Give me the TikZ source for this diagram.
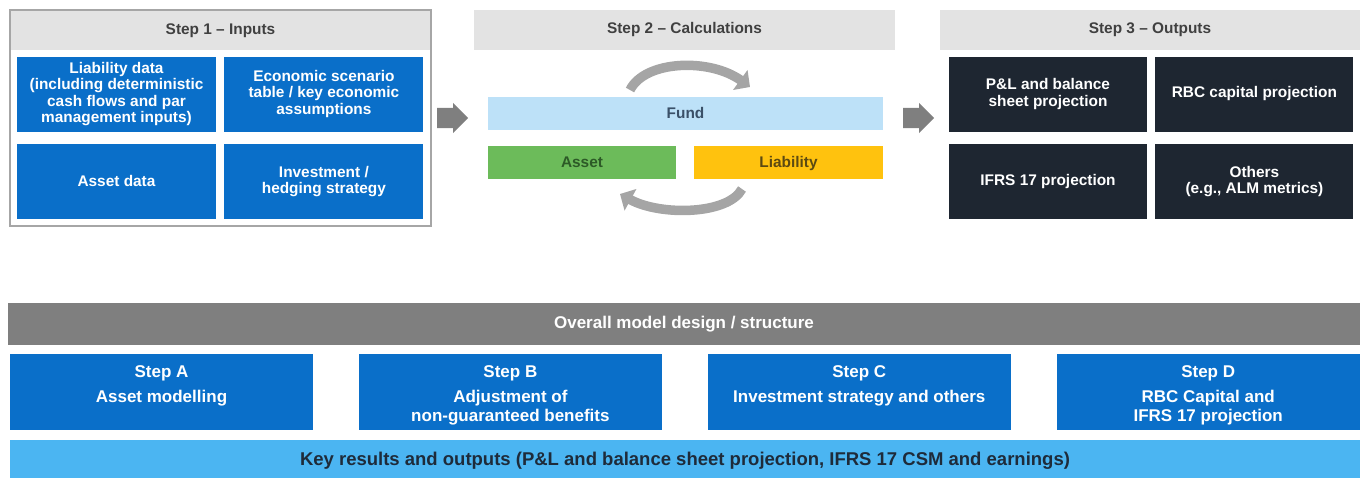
\documentclass[tikz,border=0pt]{standalone}
\usepackage{fontspec}
\setmainfont{Liberation Sans}
\usetikzlibrary{positioning,shapes.arrows,arrows.meta}

\definecolor{inblue}{RGB}{10,111,201}
\definecolor{headgray}{RGB}{227,227,227}
\definecolor{headtext}{RGB}{64,64,64}
\definecolor{framegray}{RGB}{166,166,166}
\definecolor{darkbox}{RGB}{30,38,49}
\definecolor{fundblue}{RGB}{189,225,248}
\definecolor{fundtext}{RGB}{58,80,104}
\definecolor{assetgreen}{RGB}{108,187,90}
\definecolor{assettext}{RGB}{45,90,39}
\definecolor{liabgold}{RGB}{255,194,14}
\definecolor{liabtext}{RGB}{92,74,18}
\definecolor{arrowgray}{RGB}{127,127,127}
\definecolor{cyclegray}{RGB}{165,165,165}
\definecolor{overallgray}{RGB}{127,127,127}
\definecolor{resultblue}{RGB}{75,181,242}
\definecolor{resulttext}{RGB}{30,43,58}

\tikzset{
  boxtext/.style={font=\fontsize{15.4}{16.3}\selectfont\bfseries, align=center, inner sep=0pt},
  inputbox/.style={boxtext, text=white, fill=inblue, minimum width=199pt, minimum height=75pt},
  outputbox/.style={boxtext, text=white, fill=darkbox, minimum width=198pt, minimum height=75pt},
  headbar/.style={boxtext, text=headtext, fill=headgray, minimum height=40pt},
  calcbar/.style={boxtext, minimum height=33pt, text height=12pt, text depth=2pt},
  blockarrow/.style={single arrow, fill=arrowgray, minimum height=31pt, inner xsep=0pt, inner ysep=10pt,
    single arrow head extend=5pt, single arrow head indent=0pt, anchor=tail},
  cyclearrow/.style={draw=cyclegray, line width=9.5pt, -{Triangle[length=12pt, width=24pt]}},
  overallbar/.style={boxtext, font=\fontsize{17}{19}\selectfont\bfseries, text=white, fill=overallgray,
    minimum width=1352pt, minimum height=42pt},
  stepbox/.style={fill=inblue, minimum width=303pt, minimum height=76pt, inner sep=0pt},
  steptext/.style={boxtext, font=\fontsize{17}{19}\selectfont\bfseries, text=white},
  resultbar/.style={boxtext, font=\fontsize{18.5}{20}\selectfont\bfseries, text=resulttext, fill=resultblue,
    minimum width=1350pt, minimum height=42pt}
}

\begin{document}
\begin{tikzpicture}[x=1pt, y=-1pt]
  \useasboundingbox (0,0) rectangle (1360,477);

  % step 1
  \node[draw=framegray, line width=1.2pt, minimum width=421pt, minimum height=216pt] (frame1) at (220.5,118) {};
  \node[headbar, minimum width=419pt, minimum height=39pt] (head1) at (220.5,30.5) {Step 1 -- Inputs};
  \node[inputbox] (liabdata) at (116.5,94) {Liability data\\(including deterministic\\cash flows and par\\management inputs)};
  \node[inputbox, right=8pt of liabdata] (esgdata) {Economic scenario\\table / key economic\\assumptions};
  \node[inputbox, below=12pt of liabdata] (assetdata) {Asset data};
  \node[inputbox, right=8pt of assetdata] (investdata) {Investment /\\hedging strategy};

  \node[blockarrow] (go1) at (437,118) {};

  % step 2
  \node[headbar, minimum width=421pt] (head2) at (684.5,30) {Step 2 -- Calculations};
  \node[calcbar, fill=fundblue, text=fundtext, minimum width=395pt] (fund) at (685.5,113.5) {Fund};
  \node[calcbar, fill=assetgreen, text=assettext, minimum width=188pt,
    below=16pt of fund.south west, anchor=north west] (asset) {Asset};
  \node[calcbar, fill=liabgold, text=liabtext, minimum width=189pt,
    below=16pt of fund.south east, anchor=north east] (liability) {Liability};

  \coordinate (topstart) at (630,90);
  \coordinate (topend) at (750,87);
  \draw[cyclearrow] (topstart) .. controls (645,60) and (710,58) .. (topend);
  \coordinate (botstart) at (742,189);
  \coordinate (botend) at (620,194);
  \draw[cyclearrow] (botstart) .. controls (728,215) and (660,216) .. (botend);

  \node[blockarrow] (go2) at (903,118) {};

  % step 3
  \node[headbar, minimum width=420pt] (head3) at (1150,30) {Step 3 -- Outputs};
  \node[outputbox] (pnl) at (1048,94) {P\&L and balance\\sheet projection};
  \node[outputbox, right=8pt of pnl] (rbc) {RBC capital projection};
  \node[outputbox, below=12pt of pnl] (ifrs) {IFRS 17 projection};
  \node[outputbox, right=8pt of ifrs] (others) {Others\\(e.g., ALM metrics)};

  % overall model
  \node[overallbar] (overall) at (684,324) {Overall model design / structure};
  \node[stepbox] (stepA) at (161.5,392) {};
  \node[stepbox, right=45.5pt of stepA] (stepB) {};
  \node[stepbox, right=45.5pt of stepB] (stepC) {};
  \node[stepbox, right=45.5pt of stepC] (stepD) {};
  \node[steptext, below=12pt of stepA.north] (textA) {Step A\\[6pt]Asset modelling};
  \node[steptext, below=12pt of stepB.north] (textB) {Step B\\[6pt]Adjustment of\\non-guaranteed benefits};
  \node[steptext, below=12pt of stepC.north] (textC) {Step C\\[6pt]Investment strategy and others};
  \node[steptext, below=12pt of stepD.north] (textD) {Step D\\[6pt]RBC Capital and\\IFRS 17 projection};
  \node[resultbar] (results) at (685,461) {Key results and outputs (P\&L and balance sheet projection, IFRS 17 CSM and earnings)};
\end{tikzpicture}
\end{document}
